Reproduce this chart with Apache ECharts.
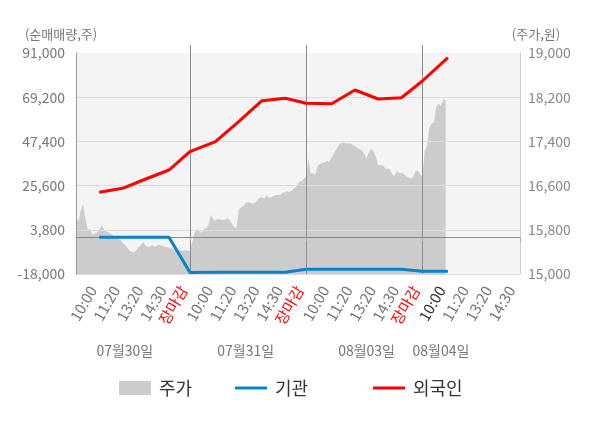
<!DOCTYPE html>
<html>
<head>
<meta charset="utf-8">
<script src="https://cdn.jsdelivr.net/npm/echarts@6/dist/echarts.min.js"></script>
<style>
html,body{margin:0;padding:0;background:#fff;}
#chart{width:600px;height:428px;}
</style>
</head>
<body>
<div id="chart"></div>
<script>
// ---- data ----
const days = ['07월30일', '07월31일', '08월03일', '08월04일'];
const slotLabels = ['10:00', '11:20', '13:20', '14:30', '장마감'];
// 주가 (원), one value per chart step
const price = [
  16040,15950,16130,16270,16010,15800,15810,15710,15730,15750,
  15800,15880,15810,15770,15750,15730,15690,15670,15640,15620,
  15570,15530,15480,15420,15400,15390,15430,15490,15530,15580,
  15510,15490,15500,15520,15500,15520,15530,15510,15500,15490,
  15470,15460,15450,15470,15440,15430,15420,15430,15420,15410,
  15580,15740,15820,15780,15740,15820,15830,15890,16070,16000,
  15960,16000,15980,15980,15980,16010,15980,15920,15850,15830,
  16160,16210,16230,16290,16300,16290,16270,16290,16340,16380,
  16390,16360,16430,16380,16390,16410,16430,16430,16430,16470,
  16480,16500,16480,16520,16560,16590,16670,16680,16720,16770,
  17090,16830,16830,16800,16960,16990,17020,17020,17050,17030,
  17110,17190,17250,17330,17370,17380,17370,17360,17360,17340,
  17310,17280,17260,17240,17170,17090,17210,17260,17230,17120,
  16970,16970,16970,16910,16910,16890,16810,16770,16870,16830,
  16830,16810,16770,16740,16730,16750,16860,16880,16810,16760,
  17220,17320,17650,17730,17740,18030,18080,18040,18160,18150
];
// 순매매량 at each label time (10:00, 11:20, 13:20, 14:30, 장마감) per day
const foreign = [22300, 24270, 28850, 33290, 42320,
                 47250, 57110, 67470, 68660, 66190,
                 66000, 72750, 68310, 68950, 77190,
                 88680];
const institution = [100, 100, 100, 100, -17200,
                     -17160, -17160, -17160, -17100, -15680,
                     -15680, -15680, -15680, -15680, -16670,
                     -16670];
const leftTicks = {min: -18000, max: 91000, step: 21800};
const rightTicks = {min: 15000, max: 19000, step: 800};

// ---- build category axis ----
const PER_DAY = 50;
const N = 192;
const slotOffsets = [10, 20, 30, 40, 49];
const categories = [];
for (let j = 0; j < N; j++) categories.push(days[Math.floor(j / PER_DAY)] + '#' + (j % PER_DAY));
const timeLabelAt = {};
const slotIndex = [];
days.forEach((d, di) => {
  slotLabels.forEach((s, si) => {
    const idx = di * PER_DAY + slotOffsets[si];
    if (idx < N) { timeLabelAt[idx] = s; slotIndex.push(idx); }
  });
});
const closeIdx = [];
for (let di = 0; di < days.length; di++) {
  const idx = di * PER_DAY + slotOffsets[4];
  if (idx < N - 1) closeIdx.push(idx);
}
const edgeTicks = [0].concat(closeIdx, [N - 1]);
const dateLabelIdx = [21, 73, 125, 157];
const dateLabelAt = {};
days.forEach((d, i) => { dateLabelAt[dateLabelIdx[i]] = d; });
const lastSlot = slotIndex[foreign.length - 1];

const foreignData = foreign.map((v, i) => [slotIndex[i], v]);
const instData = institution.map((v, i) => [slotIndex[i], v]);

const fmt = v => String(v).replace(/\B(?=(\d{3})+(?!\d))/g, ',');
const FONT = '"Noto Sans CJK KR", "Noto Sans", sans-serif';

const chart = echarts.init(document.getElementById('chart'), null, {renderer: 'canvas'});
chart.setOption({
  animation: false,
  textStyle: {fontFamily: FONT},
  grid: {left: 76, right: 80, top: 53, bottom: 154, show: true, backgroundColor: '#f4f4f4', borderWidth: 0},
  legend: [
    {data: ['주가'], left: 114, top: 372, icon: 'rect', itemWidth: 32, itemHeight: 14,
     textStyle: {fontSize: 18, color: '#333', lineHeight: 22, padding: [0, 0, 0, 3]}},
    {data: ['기관'], left: 230, top: 372, icon: 'rect', itemWidth: 32, itemHeight: 3,
     textStyle: {fontSize: 18, color: '#333', lineHeight: 22, padding: [0, 0, 0, 3]}},
    {data: ['외국인'], left: 368, top: 372, icon: 'rect', itemWidth: 32, itemHeight: 3,
     textStyle: {fontSize: 18, color: '#333', lineHeight: 22, padding: [0, 0, 0, 3]}}
  ],
  xAxis: [
    {
      type: 'category', data: categories, boundaryGap: false, position: 'bottom', z: 3,
      axisLine: {show: true, lineStyle: {color: '#aaa'}},
      axisTick: {show: true, length: 4, interval: i => edgeTicks.indexOf(i) >= 0, lineStyle: {color: '#aaa'}},
      splitLine: {show: true, interval: i => closeIdx.indexOf(i) >= 0, lineStyle: {color: '#8c8c8c', width: 1}},
      axisLabel: {
        interval: i => timeLabelAt[i] !== undefined,
        rotate: 60, margin: 17, fontSize: 15, color: '#777', verticalAlign: 'bottom',
        formatter: (v, i) => {
          const s = timeLabelAt[i];
          if (s === undefined) return '';
          if (s === '장마감') return '{red|' + s + '}';
          if (i === lastSlot) return '{cur|' + s + '}';
          return s;
        },
        rich: {red: {color: '#ff0000', fontSize: 15}, cur: {color: '#333', fontSize: 15}}
      }
    },
    {
      type: 'category', data: categories, boundaryGap: false, position: 'top', z: 3,
      axisLine: {show: false},
      axisTick: {show: true, length: 8, interval: i => closeIdx.indexOf(i) >= 0, lineStyle: {color: '#8c8c8c'}},
      axisLabel: {show: false}, splitLine: {show: false}
    },
    {
      type: 'category', data: categories, boundaryGap: false, position: 'bottom', offset: 66,
      axisLine: {show: false}, axisTick: {show: false}, splitLine: {show: false},
      axisLabel: {
        interval: i => dateLabelAt[i] !== undefined, margin: 4, fontSize: 14, color: '#777',
        formatter: (v, i) => dateLabelAt[i] || ''
      }
    }
  ],
  yAxis: [
    {
      type: 'value', position: 'left', z: 3,
      min: leftTicks.min, max: leftTicks.max, interval: leftTicks.step,
      name: '(순매매량,주)', nameLocation: 'end', nameGap: 12,
      nameTextStyle: {color: '#777', fontSize: 13, align: 'center', padding: [0, 30, 0, 0]},
      axisLine: {show: true, lineStyle: {color: '#999'}},
      axisTick: {show: false},
      axisLabel: {color: '#777', fontSize: 14, margin: 11, formatter: v => fmt(v)},
      splitLine: {show: true, lineStyle: {color: ['#dcdcdc', '#dcdcdc', '#dcdcdc', '#dcdcdc', '#dcdcdc', 'rgba(0,0,0,0)'], width: 1}}
    },
    {
      type: 'value', position: 'right', z: 3,
      min: rightTicks.min, max: rightTicks.max, interval: rightTicks.step,
      name: '(주가,원)', nameLocation: 'end', nameGap: 12,
      nameTextStyle: {color: '#777', fontSize: 13, align: 'center', padding: [0, 0, 0, 32]},
      axisLine: {show: true, lineStyle: {color: '#ccc'}},
      axisTick: {show: false},
      axisLabel: {color: '#888', fontSize: 14, margin: 8, formatter: v => fmt(v)},
      splitLine: {show: false}
    }
  ],
  series: [
    {
      name: '주가', type: 'line', xAxisIndex: 0, yAxisIndex: 1, data: price, z: 2,
      color: '#cccccc', showSymbol: false, symbol: 'none',
      lineStyle: {width: 0, color: '#cccccc'},
      areaStyle: {color: '#cccccc', opacity: 1, origin: 'start'}
    },
    {
      name: '기관', type: 'line', xAxisIndex: 0, yAxisIndex: 0, data: instData, z: 5,
      color: '#0a82d0', showSymbol: false, symbol: 'none',
      lineStyle: {width: 3, color: '#0a82d0'},
      markLine: {
        silent: true, symbol: 'none', label: {show: false}, animation: false,
        lineStyle: {color: '#888', width: 1, type: 'solid'},
        data: [{yAxis: 0}]
      }
    },
    {
      name: '외국인', type: 'line', xAxisIndex: 0, yAxisIndex: 0, data: foreignData, z: 6,
      color: '#ff0000', showSymbol: false, symbol: 'none',
      lineStyle: {width: 3, color: '#ff0000'}
    }
  ]
});
</script>
</body>
</html>
